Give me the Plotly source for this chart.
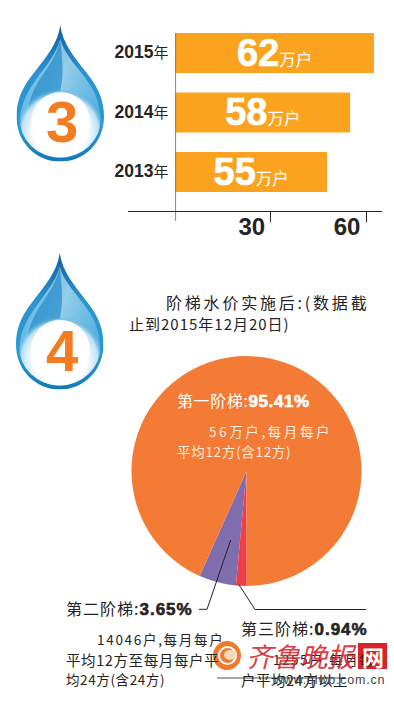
import base64
import plotly.graph_objects as go

W, H = 394, 703

# ---- data -------------------------------------------------------------
years = ["2013", "2014", "2015"]
printed_households = [55, 58, 62]          # 万户, as printed on the bars
bar_lengths = [47.7, 55.0, 62.5]           # bar ends as read against the drawn axis
axis_ticks = [30, 60]
tiers = ["第二阶梯", "第三阶梯", "第一阶梯"]
printed_shares = {"第一阶梯": "95.41%", "第二阶梯": "3.65%", "第三阶梯": "0.94%"}
drawn_shares = [5.2, 1.5, 93.3]            # slice sizes as drawn in the picture
tier_colors = ["#7F6DAD", "#EE3F48", "#F47B35"]
BAR = "#FBA31E"
INK = "#262324"
ARIAL = "'Liberation Sans',sans-serif"
CJK = "'Noto Sans CJK SC','Noto Sans',sans-serif"


def px(x):
    return x / W


def py(y):
    return 1 - y / H


def drop_uri(uid):
    svg = f"""<svg xmlns='http://www.w3.org/2000/svg' viewBox='0 0 88 137'>
<defs>
<linearGradient id='a{uid}' x1='0' y1='0' x2='0' y2='1'>
<stop offset='0' stop-color='#0F5E9E'/><stop offset='.35' stop-color='#2C93CF'/>
<stop offset='.75' stop-color='#2A9AD4'/><stop offset='1' stop-color='#1279B8'/>
</linearGradient>
<linearGradient id='b{uid}' x1='0' y1='0' x2='1' y2='.5'>
<stop offset='0' stop-color='#4FB0E0'/><stop offset='.55' stop-color='#A8D8EE'/>
<stop offset='1' stop-color='#5FB7E2'/>
</linearGradient>
<radialGradient id='c{uid}' cx='.5' cy='.66' r='.55'>
<stop offset='.6' stop-color='#FFFFFF'/><stop offset='.85' stop-color='#BFE2F3'/>
<stop offset='1' stop-color='#3FA3D8' stop-opacity='0'/>
</radialGradient>
</defs>
<path d='M44 0 C46 18 58 32 72 50 C84 65 88 78 88 92 C88 118 68 137 44 137 C20 137 0 118 0 92 C0 78 4 65 16 50 C30 32 42 18 44 0Z' fill='url(#a{uid})'/>
<path d='M44 14 C48 30 62 42 74 60 C82 72 84 84 84 92 C84 116 66 133 44 133 C22 133 4 116 4 92 C4 84 8 72 16 60 C28 42 40 30 44 14Z' fill='url(#b{uid})' opacity='.85'/>
<path d='M44 14 C46 34 48 50 44 66 C30 68 18 78 12 92 C10 78 18 62 28 48 C36 36 42 26 44 14Z' fill='#2A8FCB' opacity='.75'/>
<ellipse cx='44' cy='94' rx='41' ry='39' fill='url(#c{uid})'/>
<circle cx='44.5' cy='97' r='29.5' fill='#FFFFFF'/>
</svg>"""
    return "data:image/svg+xml;base64," + base64.b64encode(svg.encode()).decode()


def note(text, x, y, size=14, color=INK, family=CJK, anchor="left", ls=0):
    if ls:
        text = f"<span style=\"letter-spacing:{ls}px\">{text}</span>"
    return dict(text=text, x=px(x), y=py(y), xref="paper", yref="paper", xanchor=anchor,
                yanchor="middle", showarrow=False, align="left",
                font=dict(size=size, color=color, family=family), borderpad=0)


def heavy(value, size, color=None):
    stroke = f";stroke:{color};stroke-width:0.6px" if color else ""
    return (f"<span style=\"font-family:{ARIAL};font-size:{size}px;font-weight:bold{stroke}\">"
            f"<b>{value}</b></span>")


bar_text = [heavy(v, 38, "white") + "万户" for v in printed_households]

fig = go.Figure()
fig.add_trace(go.Bar(
    y=years, x=bar_lengths, orientation="h", marker=dict(color=BAR, line_width=0),
    text=bar_text, textposition="inside", insidetextanchor="middle", textangle=0,
    constraintext="none", textfont=dict(color="white", size=16.5, family=CJK),
    hoverinfo="skip", xaxis="x", yaxis="y",
))
fig.add_trace(go.Pie(
    labels=tiers, values=drawn_shares, sort=False, direction="counterclockwise", rotation=185.3,
    marker=dict(colors=tier_colors, line_width=0), textinfo="none", hoverinfo="skip",
    showlegend=False, domain=dict(x=[px(131.5), px(361.5)], y=[py(586), py(356)]),
))

shapes = [
    # zero line and its tail below the axis
    dict(type="line", xref="x", yref="paper", x0=0, x1=0, y0=py(33), y1=py(221),
         line=dict(color=INK, width=1.1)),
    # left stub of the horizontal axis
    dict(type="line", xref="paper", yref="paper", x0=px(128), x1=px(176), y0=py(211.5), y1=py(211.5),
         line=dict(color=INK, width=1)),
    # leader lines
    dict(type="path", xref="paper", yref="paper", line=dict(color=INK, width=1),
         path=f"M{px(199)} {py(609.3)} L{px(207)} {py(609.3)} L{px(230.7)} {py(540)}"),
    dict(type="path", xref="paper", yref="paper", line=dict(color=INK, width=1),
         path=f"M{px(239)} {py(584.7)} L{px(255)} {py(609.5)} L{px(366)} {py(609.5)}"),
    # watermark
    dict(type="line", xref="paper", yref="paper", x0=px(217), x1=px(345), y0=py(678), y1=py(678),
         line=dict(color=INK, width=0.8)),
    dict(type="circle", xref="paper", yref="paper", x0=px(213), x1=px(241), y0=py(670), y1=py(641),
         fillcolor="#EE7A2C", line_width=0, layer="above"),
    dict(type="circle", xref="paper", yref="paper", x0=px(219), x1=px(236), y0=py(664), y1=py(647),
         fillcolor="rgba(0,0,0,0)", line=dict(color="white", width=2), layer="above"),
    dict(type="circle", xref="paper", yref="paper", x0=px(224), x1=px(236), y0=py(660), y1=py(650),
         fillcolor="#F9D9B8", line_width=0, layer="above"),
    dict(type="rect", xref="paper", yref="paper", x0=px(358), x1=px(387), y0=py(669), y1=py(643),
         fillcolor="#D8232A", line_width=0, layer="above"),
]

images = [
    dict(source=drop_uri("p"), xref="paper", yref="paper", x=px(16.5), y=py(25), sizex=px(87.5),
         sizey=136.5 / H, xanchor="left", yanchor="top", sizing="stretch", layer="below"),
    dict(source=drop_uri("q"), xref="paper", yref="paper", x=px(16), y=py(252.5), sizex=px(87.5),
         sizey=137 / H, xanchor="left", yanchor="top", sizing="stretch", layer="below"),
]

annotations = [
    note("<b>3</b>", 62, 122, size=58, color="#F47C20", family=ARIAL, anchor="center"),
    note("<b>4</b>", 61.5, 350, size=58, color="#F47C20", family=ARIAL, anchor="center"),
    note("阶梯水价实施后:(数据截", 165, 302, size=16, ls=2.8),
    note("止到2015年12月20日)", 128, 324, size=15, ls=1),
    note(f"第一阶梯:{heavy(printed_shares['第一阶梯'], 17, 'white')}", 176, 400, size=16, color="white", ls=0.6),
    note("56万户,每月每户", 208, 431, size=13.5, color="#FDEBDD", ls=2.6),
    note("平均12方(含12方)", 176, 451, size=13.5, color="#FDEBDD", ls=0.7),
    note(f"第二阶梯:{heavy(printed_shares['第二阶梯'], 17, INK)}", 65, 608, size=16, ls=1),
    note("14046户,每月每户", 96, 639, size=13.5, ls=1.7),
    note("平均12方至每月每户平", 65, 659, size=14.5, ls=0.6),
    note("均24方(含24方)", 65, 679, size=13.5, ls=0.6),
    note(f"第三阶梯:{heavy(printed_shares['第三阶梯'], 17, INK)}", 240, 628, size=16, ls=1),
    note("1255户,每月每", 272, 659, size=13.5, ls=1.5),
    note("户平均24方以上", 240, 679, size=14.5, ls=0.5),
    note("<i>齐鲁晚报</i>", 301, 655, size=27, color="rgba(216,35,42,0.9)", anchor="center"),
    note("<b>网</b>", 372.5, 656, size=22, color="white", anchor="center"),
    note("www.qlwb.com.cn", 386, 680, size=12.5, color="#444444", family=ARIAL, anchor="right", ls=0.8),
]

x_per_px = 60 / (366 - 175.5)
fig.update_layout(
    width=W, height=H, autosize=False, margin=dict(l=0, r=0, t=0, b=0, pad=0),
    paper_bgcolor="white", plot_bgcolor="rgba(0,0,0,0)", showlegend=False, bargap=0.328,
    shapes=shapes, images=images, annotations=annotations,
    xaxis=dict(
        domain=[px(175.5), px(382)], anchor="y",
        range=[0, (382 - 175.5) * x_per_px],
        tickvals=axis_ticks, ticktext=[str(t) for t in axis_ticks],
        ticks="outside", ticklen=10, tickwidth=1, tickcolor=INK,
        ticklabelshift=-19, ticklabelstandoff=-16,
        tickfont=dict(family=ARIAL, size=24, color=INK, weight="bold"),
        showline=True, linecolor=INK, linewidth=1, showgrid=False, zeroline=False, fixedrange=True,
    ),
    yaxis=dict(
        domain=[py(211), py(25)], anchor="x", type="category",
        categoryorder="array", categoryarray=years,
        range=[-0.655, 2.47], showline=False, showgrid=False, zeroline=False, ticks="",
        tickmode="array", tickvals=years, ticklabelstandoff=6,
        ticktext=[f"<span style=\"font-family:{ARIAL};font-size:17.5px\"><b>{y}</b></span>年" for y in years],
        tickfont=dict(family=CJK, size=15, color=INK), fixedrange=True,
        automargin=False,
    ),
)

fig.write_html(
    "out.html", config=dict(displayModeBar=False, responsive=False),
    post_script="document.body.style.margin='0';document.documentElement.style.overflow='hidden';",
)
